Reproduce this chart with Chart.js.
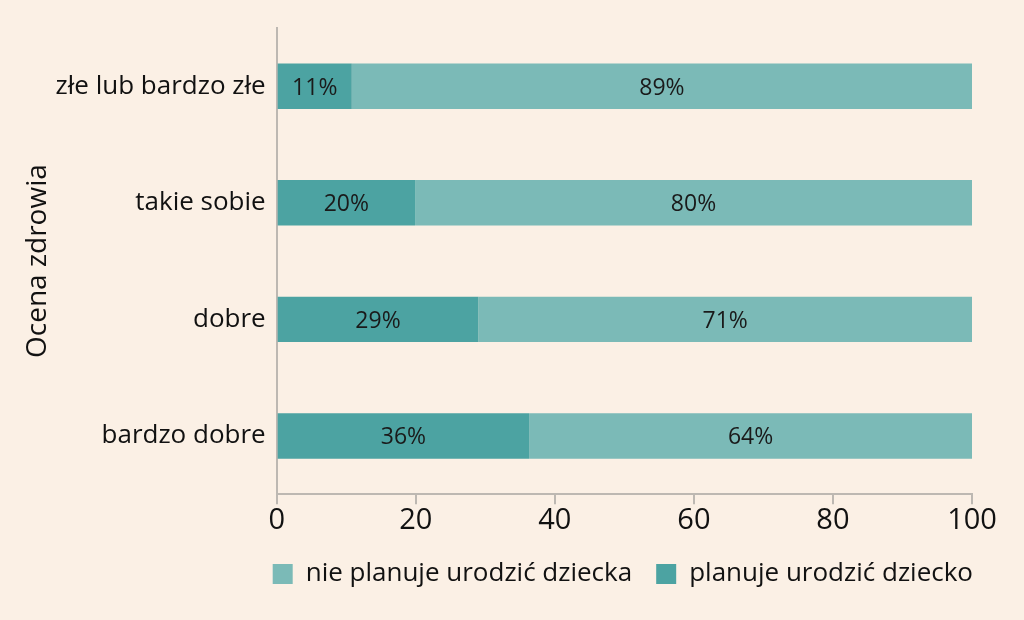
<!DOCTYPE html>
<html lang="pl">
<head>
    <meta charset="UTF-8">
    <title>Ocena zdrowia</title>
    <script src="https://cdn.jsdelivr.net/npm/chart.js"></script>
    <style>
        html, body { margin: 0; padding: 0; background: #fbf0e5; }
        #wrap { width: 1024px; height: 620px; }
    </style>
</head>
<body>
    <div id="wrap"><canvas id="healthChart"></canvas></div>
    <script>
        const categories = ['złe lub bardzo złe', 'takie sobie', 'dobre', 'bardzo dobre'];
        const plansChild = [10.8, 19.9, 29.0, 36.3];
        const noPlansChild = [89.2, 80.1, 71.0, 63.7];
        const shownPlans = [11, 20, 29, 36];
        const shownNoPlans = [89, 80, 71, 64];

        const fontFamily = '"Open Sans", Lato, sans-serif';

        // percent labels inside the bars
        const barLabels = {
            id: 'barLabels',
            afterDatasetsDraw(chart) {
                const ctx = chart.ctx;
                const texts = [shownPlans, shownNoPlans];
                ctx.save();
                ctx.font = '23px ' + fontFamily;
                ctx.fillStyle = '#1a1a1a';
                ctx.textAlign = 'center';
                ctx.textBaseline = 'middle';
                chart.data.datasets.forEach((ds, di) => {
                    chart.getDatasetMeta(di).data.forEach((bar, i) => {
                        const x = (bar.x + bar.base) / 2;
                        ctx.fillText(texts[di][i] + '%', x, bar.y + 2);
                    });
                });
                ctx.restore();
            }
        };

        // push the legend so it ends under the right edge of the plot
        const legendShift = {
            id: 'legendShift',
            afterLayout(chart) {
                chart.legend.left += 25;
                chart.legend.right += 25;
            }
        };

        const ctx = document.getElementById('healthChart').getContext('2d');
        new Chart(ctx, {
            type: 'bar',
            data: {
                labels: categories,
                datasets: [
                    {
                        label: 'planuje urodzić dziecko',
                        data: plansChild,
                        backgroundColor: '#4ca3a2',
                        barPercentage: 0.39,
                        categoryPercentage: 1
                    },
                    {
                        label: 'nie planuje urodzić dziecka',
                        data: noPlansChild,
                        backgroundColor: '#7bbab7',
                        barPercentage: 0.39,
                        categoryPercentage: 1
                    }
                ]
            },
            options: {
                indexAxis: 'y',
                responsive: true,
                maintainAspectRatio: false,
                animation: false,
                layout: { padding: { top: 28, right: 52, left: 16, bottom: 23 } },
                scales: {
                    x: {
                        stacked: true,
                        min: 0,
                        max: 100,
                        ticks: { stepSize: 20, color: '#111', font: { family: fontFamily, size: 29 }, padding: -1 },
                        grid: { drawOnChartArea: false, tickLength: 10, color: '#bdb8b2', lineWidth: 2 },
                        border: { color: '#bdb8b2', width: 2 }
                    },
                    y: {
                        stacked: true,
                        ticks: { color: '#111', font: { family: fontFamily, size: 26 }, padding: 11 },
                        grid: { display: false, drawTicks: false },
                        border: { color: '#bdb8b2', width: 2 },
                        title: {
                            display: true,
                            text: 'Ocena zdrowia',
                            color: '#111',
                            font: { family: fontFamily, size: 28 },
                            padding: { top: 5, bottom: -10 }
                        }
                    }
                },
                plugins: {
                    legend: {
                        position: 'bottom',
                        align: 'end',
                        reverse: true,
                        labels: {
                            color: '#111',
                            font: { family: fontFamily, size: 26 },
                            boxWidth: 20,
                            boxHeight: 20,
                            padding: 24
                        }
                    },
                    tooltip: { enabled: false }
                }
            },
            plugins: [barLabels, legendShift]
        });
    </script>
</body>
</html>
